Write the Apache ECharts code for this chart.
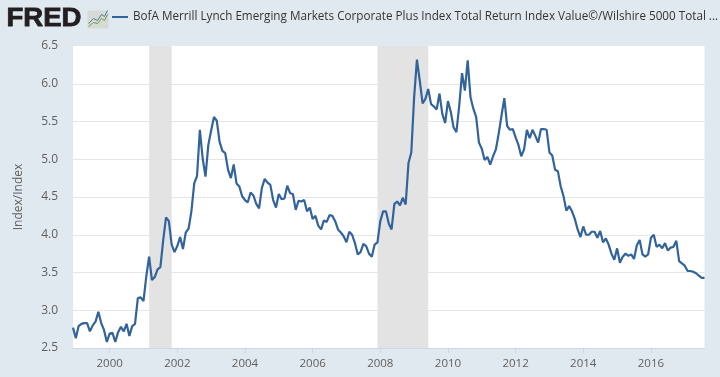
<!DOCTYPE html>
<html>
<head>
<meta charset="utf-8">
<title>FRED</title>
<script src="https://cdn.jsdelivr.net/npm/echarts@6/dist/echarts.min.js"></script>
<style>
  html, body { margin: 0; padding: 0; background: #e1e9f0; }
  #chart { width: 720px; height: 377px; }
</style>
</head>
<body>
<div id="chart"></div>
<script>
// monthly values, Dec 1998 to Aug 2017
var seriesName = 'BofA Merrill Lynch Emerging Markets Corporate Plus Index Total Return Index Value©/Wilshire 5000 Total ...';
var values = [
  2.77, 2.63, 2.79, 2.82, 2.83, 2.83, 2.72, 2.80, 2.85, 2.98, 2.83, 2.74, 2.58,
  2.69, 2.70, 2.58, 2.71, 2.78, 2.72, 2.82, 2.66, 2.79, 2.82, 3.16, 3.17,
  3.12, 3.45, 3.71, 3.40, 3.44, 3.54, 3.57, 3.93, 4.23, 4.18, 3.87, 3.77,
  3.85, 3.97, 3.81, 4.03, 4.08, 4.31, 4.68, 4.78, 5.39, 5.01, 4.77, 5.19,
  5.38, 5.56, 5.51, 5.23, 5.11, 5.08, 4.86, 4.75, 4.93, 4.68, 4.64, 4.51,
  4.46, 4.43, 4.56, 4.52, 4.41, 4.35, 4.62, 4.74, 4.69, 4.66, 4.46, 4.36,
  4.54, 4.47, 4.48, 4.65, 4.55, 4.54, 4.33, 4.45, 4.44, 4.46, 4.31, 4.36,
  4.21, 4.25, 4.12, 4.07, 4.19, 4.17, 4.26, 4.25, 4.18, 4.07, 4.03, 3.98,
  3.90, 4.04, 4.00, 3.89, 3.74, 3.77, 3.88, 3.85, 3.75, 3.71, 3.87, 3.90,
  4.18, 4.31, 4.31, 4.15, 4.07, 4.41, 4.44, 4.39, 4.49, 4.40, 4.95, 5.09,
  5.82, 6.32, 6.04, 5.74, 5.80, 5.93, 5.73, 5.70, 5.66, 5.87, 5.60, 5.48,
  5.77, 5.63, 5.42, 5.36, 5.71, 6.14, 5.91, 6.31, 5.82, 5.67, 5.56, 5.22,
  5.14, 4.99, 5.03, 4.93, 5.04, 5.13, 5.34, 5.58, 5.81, 5.44, 5.39, 5.40,
  5.29, 5.19, 5.04, 5.13, 5.39, 5.28, 5.39, 5.31, 5.22, 5.40, 5.40, 5.39,
  5.09, 5.05, 4.86, 4.84, 4.64, 4.51, 4.32, 4.38, 4.31, 4.21, 4.07, 3.97,
  4.11, 4.00, 4.00, 4.04, 4.04, 3.96, 4.05, 3.90, 3.95, 3.87, 3.75, 3.67,
  3.82, 3.63, 3.71, 3.75, 3.72, 3.74, 3.68, 3.86, 3.93, 3.74, 3.71, 3.74,
  3.96, 4.00, 3.84, 3.87, 3.82, 3.89, 3.79, 3.83, 3.84, 3.92, 3.65, 3.62,
  3.59, 3.52, 3.52, 3.51, 3.49, 3.46, 3.43, 3.43
];
var recessions = [['2001-03', '2001-11'], ['2007-12', '2009-06']];
var startYear = 1998, startMonth = 12;

var categories = [];
for (var i = 0; i < values.length; i++) {
  var m = startMonth - 1 + i;
  var mm = m % 12 + 1;
  categories.push((startYear + Math.floor(m / 12)) + '-' + (mm < 10 ? '0' + mm : mm));
}

// only Januaries of even years get a tick and a label
function isTick(index, value) {
  var p = value.split('-');
  return p[1] === '01' && +p[0] % 2 === 0;
}

var textColor = '#606060';
var font = '"Open Sans", sans-serif';

var myChart = echarts.init(document.getElementById('chart'), null, { renderer: 'canvas' });
myChart.setOption({
  animation: false,
  backgroundColor: '#e1e9f0',
  textStyle: { fontFamily: font },
  grid: {
    left: 73, right: 15.5, top: 46, bottom: 29,
    show: true, backgroundColor: '#ffffff', borderWidth: 0
  },
  legend: {
    left: 107, top: 6,
    itemWidth: 16, itemHeight: 2, itemGap: 0,
    icon: 'rect',
    textStyle: { color: '#333333', fontSize: 11.7, fontFamily: font },
    data: [seriesName]
  },
  xAxis: {
    type: 'category',
    data: categories,
    boundaryGap: false,
    axisLine: { lineStyle: { color: '#ccd6eb', width: 1 } },
    axisTick: { interval: isTick, length: 5, lineStyle: { color: '#ccd6eb' } },
    axisLabel: {
      interval: isTick,
      color: textColor, fontSize: 11.5, fontFamily: font, margin: 10,
      formatter: function (v) { return v.split('-')[0]; }
    },
    splitLine: { show: false }
  },
  yAxis: {
    type: 'value',
    min: 2.5, max: 6.5, interval: 0.5,
    name: 'Index/Index',
    nameLocation: 'middle',
    nameGap: 48,
    nameTextStyle: { color: textColor, fontSize: 12, fontFamily: font },
    axisLine: { show: false },
    axisTick: { show: false },
    axisLabel: {
      color: textColor, fontSize: 12, fontFamily: font, margin: 15,
      padding: [2, 0, 0, 0],
      formatter: function (v) { return v.toFixed(1); }
    },
    splitLine: { showMinLine: false, showMaxLine: false, lineStyle: { color: '#e6e6e6', width: 1 } }
  },
  series: [{
    name: seriesName,
    type: 'line',
    data: values,
    showSymbol: false,
    lineStyle: { color: '#33639b', width: 2.2 },
    itemStyle: { color: '#33639b' },
    markArea: {
      silent: true,
      itemStyle: { color: '#e3e3e3' },
      data: recessions.map(function (r) {
        return [{ xAxis: r[0] }, { xAxis: r[1] }];
      })
    },
    z: 3
  }],
  // FRED logo
  graphic: [
    {
      type: 'text', left: 6, top: 5, scaleX: 1.06,
      style: { text: 'FRED', fontFamily: '"Liberation Sans", sans-serif', fontWeight: 'bold', fontSize: 26, fill: '#231f20', stroke: '#231f20', lineWidth: 0.8 }
    },
    {
      type: 'group', left: 86, top: 8,
      children: [
        { type: 'rect', shape: { x: 0, y: 0, width: 21, height: 18 }, style: { fill: '#d5dad4' } },
        { type: 'polyline', shape: { points: [[1, 13], [6, 8], [10, 10], [14, 4], [17, 6], [20, 0]] }, style: { stroke: '#4a7a98', fill: null, lineWidth: 1 } },
        { type: 'polyline', shape: { points: [[1, 16], [6, 12], [10, 13], [14, 8], [17, 10], [20, 4]] }, style: { stroke: '#76964f', fill: null, lineWidth: 1 } }
      ]
    }
  ]
});
</script>
</body>
</html>
